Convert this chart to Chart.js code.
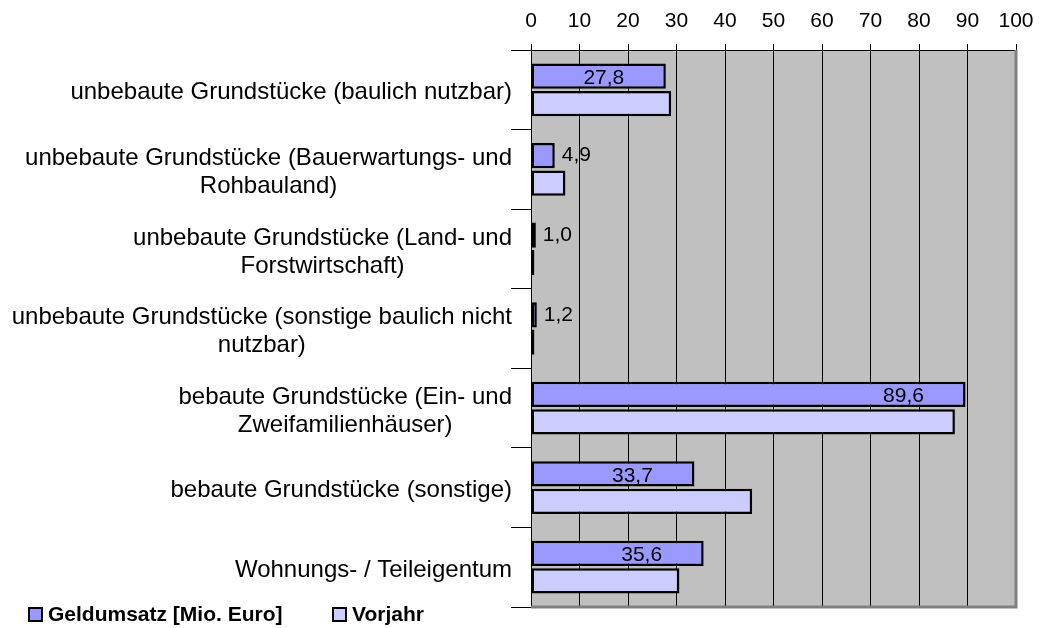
<!DOCTYPE html>
<html>
<head>
<meta charset="utf-8">
<script src="https://cdn.jsdelivr.net/npm/chart.js@4"></script>
<style>
  html, body { margin: 0; padding: 0; background: #fff; }
  #wrap { width: 1054px; height: 628px; }
</style>
</head>
<body>
<div id="wrap"><canvas id="myChart" width="1054" height="628"></canvas></div>
<script>
const categories = [
  ["unbebaute Grundstücke (baulich nutzbar)"],
  ["unbebaute Grundstücke (Bauerwartungs- und", "Rohbauland)"],
  ["unbebaute Grundstücke (Land- und", "Forstwirtschaft)"],
  ["unbebaute Grundstücke (sonstige baulich nicht", "nutzbar)"],
  ["bebaute Grundstücke (Ein- und", "Zweifamilienhäuser)"],
  ["bebaute Grundstücke (sonstige)"],
  ["Wohnungs- / Teileigentum"]
];
const geldumsatz = [27.8, 4.9, 1.0, 1.2, 89.6, 33.7, 35.6];
const vorjahr = [28.9, 7.1, 0.7, 0.7, 87.4, 45.6, 30.6];
const seriesNames = ["Geldumsatz [Mio. Euro]", "Vorjahr"];
const xTicks = [0, 10, 20, 30, 40, 50, 60, 70, 80, 90, 100];

const colors = {
  current: "#9999ff",
  previous: "#ccccff",
  plot: "#c0c0c0",
  frame: "#808080"
};

const FONT = "Arial, 'Liberation Sans', sans-serif";

const chartPlugin = {
  id: "excelLook",
  beforeDraw(chart) {
    const { ctx, chartArea: a } = chart;
    ctx.save();
    ctx.fillStyle = colors.plot;
    ctx.fillRect(a.left, a.top, a.right - a.left, a.bottom - a.top);
    ctx.restore();
  },
  afterDatasetsDraw(chart) {
    const { ctx, chartArea: a } = chart;
    // gray frame right / bottom
    ctx.save();
    ctx.strokeStyle = colors.frame;
    ctx.lineWidth = 3;
    ctx.beginPath();
    ctx.moveTo(a.right, a.top);
    ctx.lineTo(a.right, a.bottom);
    ctx.lineTo(a.left, a.bottom);
    ctx.stroke();

    // value labels for first series
    const meta = chart.getDatasetMeta(0);
    ctx.fillStyle = "#000";
    ctx.font = "21px " + FONT;
    ctx.textBaseline = "middle";
    meta.data.forEach((bar, i) => {
      const txt = geldumsatz[i].toFixed(1).replace(".", ",");
      if (geldumsatz[i] >= 10) {
        ctx.textAlign = "center";
        ctx.fillText(txt, bar.x - 62, bar.y + 2);
      } else {
        ctx.textAlign = "left";
        ctx.fillText(txt, bar.x + 7, bar.y);
      }
    });

    // category labels: block right aligned, lines centred
    const y = chart.scales.y;
    ctx.font = "24px " + FONT;
    ctx.textAlign = "center";
    const lh = 28;
    categories.forEach((lines, i) => {
      const cy = y.getPixelForValue(i);
      const w = Math.max(...lines.map(l => ctx.measureText(l).width));
      const cx = a.left - 19 - w / 2;
      const y0 = cy - (lines.length - 1) * lh / 2 + 3;
      lines.forEach((l, k) => ctx.fillText(l, cx, y0 + k * lh));
    });

    // legend
    ctx.font = "bold 21px " + FONT;
    ctx.textAlign = "left";
    const legendX = [29, 333];
    const legendY = 615;
    chart.data.datasets.forEach((ds, i) => {
      ctx.fillStyle = ds.backgroundColor;
      ctx.fillRect(legendX[i], legendY - 7, 13, 13);
      ctx.strokeStyle = "#000";
      ctx.lineWidth = 2;
      ctx.strokeRect(legendX[i], legendY - 7, 13, 13);
      ctx.fillStyle = "#000";
      ctx.fillText(ds.label, legendX[i] + 19, legendY);
    });
    ctx.restore();
  }
};

const ctx = document.getElementById("myChart").getContext("2d");
new Chart(ctx, {
  type: "bar",
  data: {
    labels: categories.map(c => c.join(" ")),
    datasets: [
      {
        label: seriesNames[0],
        data: geldumsatz,
        backgroundColor: colors.current,
        borderColor: "#000",
        borderWidth: 2.5,
        borderSkipped: false,
        categoryPercentage: 0.69,
        barPercentage: 0.92
      },
      {
        label: seriesNames[1],
        data: vorjahr,
        backgroundColor: colors.previous,
        borderColor: "#000",
        borderWidth: 2.5,
        borderSkipped: false,
        categoryPercentage: 0.69,
        barPercentage: 0.92
      }
    ]
  },
  options: {
    indexAxis: "y",
    responsive: false,
    animation: false,
    layout: { padding: { left: 0, right: 38, top: 0, bottom: 21 } },
    plugins: {
      legend: { display: false },
      tooltip: { enabled: false }
    },
    scales: {
      x: {
        position: "top",
        min: 0,
        max: 100,
        afterBuildTicks: s => { s.ticks = xTicks.map(v => ({ value: v })); },
        afterFit: s => { s.height = 50; },
        ticks: {
          color: "#000",
          font: { size: 21, family: FONT },
          padding: 10,
          maxRotation: 0
        },
        grid: { color: "#000", lineWidth: 1, tickLength: 6 },
        border: { color: "#000", width: 1 }
      },
      y: {
        afterFit: s => { s.width = 531; },
        ticks: { display: false },
        grid: {
          drawOnChartArea: false,
          color: "#000",
          tickLength: 20,
          offset: true
        },
        border: { color: "#000", width: 1 }
      }
    }
  },
  plugins: [chartPlugin]
});
</script>
</body>
</html>
